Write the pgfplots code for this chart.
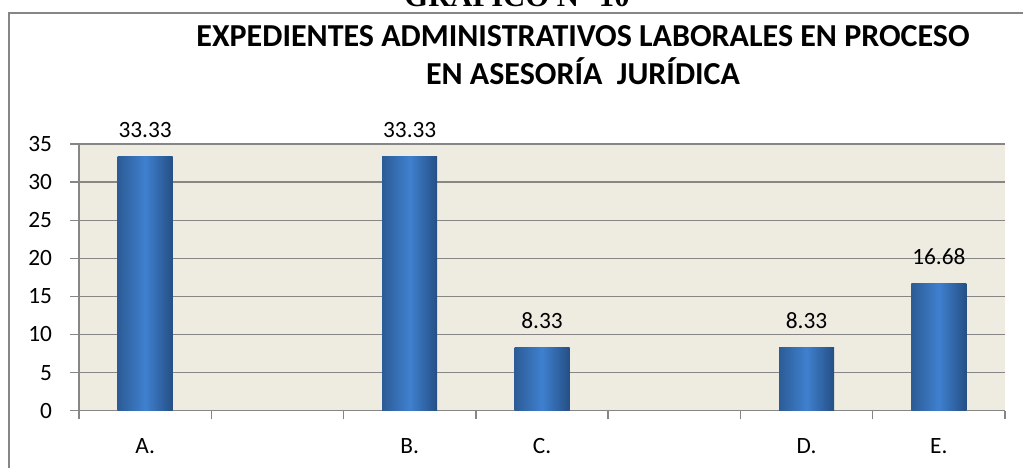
\documentclass[border=0pt]{standalone}
\usepackage{pgfplots}
\pgfplotsset{compat=1.18}
\usepackage{fontspec}
\setmainfont{Carlito}
\newfontfamily\serifbold{Liberation Serif}
\definecolor{bgc}{HTML}{EEECE1}
\definecolor{gridc}{HTML}{868686}
\definecolor{barL}{HTML}{2C5C96}
\definecolor{barM}{HTML}{3F80CF}
\definecolor{barR}{HTML}{254F85}
\begin{document}
\begin{tikzpicture}[x=0.75pt,y=0.75pt]
\path[use as bounding box] (0,0) rectangle (1023,467);
\clip (0,0) rectangle (1023,467);
\node[anchor=base, font=\serifbold\bfseries\fontsize{23}{27}\selectfont] at (517,460) {GRÁFICO N° 10};
\draw[gridc, line width=1.1pt] (9,454) rectangle (1040,-20);
\node[anchor=base, font=\bfseries\fontsize{24}{28}\selectfont] at (583,420.3) {EXPEDIENTES ADMINISTRATIVOS LABORALES EN PROCESO};
\node[anchor=base, font=\bfseries\fontsize{24}{28}\selectfont] at (583,382) {EN ASESORÍA\ \ JURÍDICA};
\begin{axis}[
  at={(59.25pt,42.225pt)}, anchor=south west,
  scale only axis, width=694.5pt, height=200pt,
  xmin=-0.5, xmax=6.5, ymin=0, ymax=35,
  axis x line*=bottom, axis y line*=left,
  axis line style={gridc, line width=1pt},
  axis background/.style={fill=bgc},
  ymajorgrids, grid style={gridc, line width=1pt},
  ytick={0,5,...,35},
  xtick={-0.5,0.5,...,6.5}, xticklabels={},
  extra x ticks={0,2,3,5,6},
  extra x tick labels={A.,B.,C.,D.,E.},
  extra x tick style={major tick length=0pt, grid=none,
    xticklabel style={anchor=base, yshift=-32pt}},
  tick align=outside, major tick length=6.5pt,
  tick style={gridc, line width=1pt},
  ticklabel style={font=\fontsize{17.5}{21}\selectfont, text=black},
  yticklabel style={anchor=east, inner sep=0pt, xshift=-13.5pt},
  /pgf/number format/assume math mode=true,
  ybar, bar width=41.25pt, bar shift=0pt,
  nodes near coords={\pgfmathprintnumber[fixed,fixed zerofill,precision=2]{\pgfplotspointmeta}},
  every node near coord/.append style={anchor=base, yshift=14.25pt, font=\fontsize{17.5}{21}\selectfont, text=black},
  barstyle/.style={draw=none, shading=axis, left color=barL, right color=barR, middle color=barM},
]
\addplot[barstyle] coordinates {(0,33.33)};
\addplot[barstyle] coordinates {(2,33.33)};
\addplot[barstyle] coordinates {(3,8.33)};
\addplot[barstyle] coordinates {(5,8.33)};
\addplot[barstyle] coordinates {(6,16.68)};
\end{axis}
\end{tikzpicture}
\end{document}
